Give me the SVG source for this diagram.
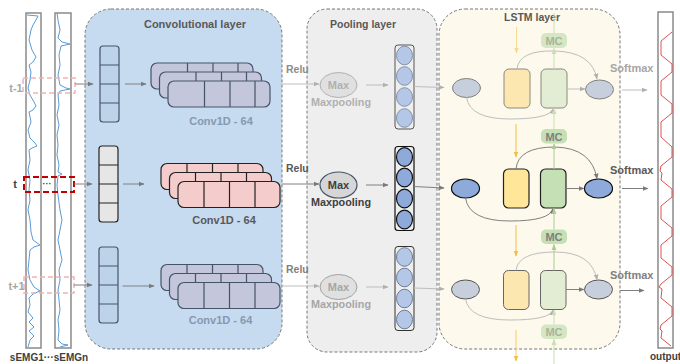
<svg xmlns="http://www.w3.org/2000/svg" width="680" height="364" viewBox="0 0 680 364">
<style>
text{font-family:"Liberation Sans",Arial,sans-serif;font-weight:bold}
.ttl{font-size:11px;fill:#595959;text-anchor:middle}
.lbl{font-size:11px;text-anchor:middle}
.box{stroke:#777;stroke-width:1;stroke-dasharray:3 2}
.strip{fill:#fff;stroke:#8a8a8a;stroke-width:1.5}
.sig{fill:none;stroke:#5b9bd5;stroke-width:1}
.cf{fill:#bdd3ea;stroke:#44546a;stroke-width:1.2}
.cm{fill:#e6e6e6;stroke:#222;stroke-width:1.2}
.sf{fill:#c4c6dc;stroke:#44546a;stroke-width:1.2}
.sm{fill:#f5cccc;stroke:#222;stroke-width:1.2}
.dv{stroke:#44546a;stroke-width:1.2}
.dvm{stroke:#222;stroke-width:1.2}
.lf{fill:none;stroke:#bdbdbd;stroke-width:1}
.lm{fill:none;stroke:#808080;stroke-width:1}
.mc{fill:#d5e6c3}
.mcm{fill:#c5e0b4}
</style>
<defs>
<marker id="aL" viewBox="0 0 10 10" refX="9" refY="5" markerWidth="6" markerHeight="6" markerUnits="userSpaceOnUse" orient="auto"><path d="M0,1L10,5L0,9z" fill="#b0b0b0"/></marker>
<marker id="aD" viewBox="0 0 10 10" refX="9" refY="5" markerWidth="6" markerHeight="6" markerUnits="userSpaceOnUse" orient="auto"><path d="M0,1L10,5L0,9z" fill="#7a7a7a"/></marker>
<marker id="aY" viewBox="0 0 10 10" refX="9" refY="5" markerWidth="6" markerHeight="6" markerUnits="userSpaceOnUse" orient="auto"><path d="M0,1L10,5L0,9z" fill="#f2bf45"/></marker>
<marker id="aYL" viewBox="0 0 10 10" refX="9" refY="5" markerWidth="6" markerHeight="6" markerUnits="userSpaceOnUse" orient="auto"><path d="M0,1L10,5L0,9z" fill="#f8da8e"/></marker>
<marker id="aG" viewBox="0 0 10 10" refX="9" refY="5" markerWidth="6" markerHeight="6" markerUnits="userSpaceOnUse" orient="auto"><path d="M0,1L10,5L0,9z" fill="#a9cc8f"/></marker>
<marker id="aGL" viewBox="0 0 10 10" refX="9" refY="5" markerWidth="6" markerHeight="6" markerUnits="userSpaceOnUse" orient="auto"><path d="M0,1L10,5L0,9z" fill="#c9deb6"/></marker>
</defs>

<!-- layer panels -->
<g id="conv-layer">
<rect class="box" x="85" y="9" width="197" height="340" rx="26" fill="#c7dbf0"/>
<text class="ttl" x="195" y="28">Convolutional layer</text>
</g>
<g id="pool-layer">
<rect class="box" x="307" y="9" width="130" height="343" rx="20" fill="#eeeeee"/>
<text class="ttl" x="363" y="28" style="font-size:10.5px">Pooling layer</text>
</g>
<g id="lstm-layer">
<rect class="box" x="439" y="9" width="181" height="340" rx="26" fill="#fdf9ec"/>
<text class="ttl" x="532" y="21" style="font-size:10.5px">LSTM layer</text>
</g>

<!-- input signals -->
<g id="input">
<rect class="strip" x="26" y="13" width="15" height="335"/>
<rect class="strip" x="55" y="13" width="16" height="335"/>
<polyline class="sig" points="27,15 38,16 36,20 33,25 31,30 29,40 32,50 36,57 33,62 29,65 31,72 30,80 28,88 30,95 34,102 36,106 33,110 29,112 31,122 28,130 30,138 35,143 37,146 32,148 29,150 30,160 28,170 30,180 29,190 30,200 28,210 30,220 31,232 33,240 40,245 34,247 30,250 29,260 28,270 30,280 34,287 40,291 33,294 29,298 30,305 28,312 33,318 29,322 34,327 29,331 34,336 30,340 28,347"/>
<polyline class="sig" points="57,13 58,20 60,30 58,38 62,42 70,44 61,46 59,55 60,65 58,75 60,85 66,88 70,89 60,91 58,95 59,105 57,115 59,125 57,135 58,145 57,155 59,165 58,172 62,174 58,176 57,185 58,195 60,210 62,220 60,230 58,240 60,250 62,260 59,270 60,280 58,290 59,300 60,310 58,320 59,330 58,340 62,344 68,345 60,347"/>
<text x="49" y="361" class="lbl" style="font-size:10px;fill:#404040">sEMG1···sEMGn</text>
</g>

<g id="window-t-1">
<rect x="23" y="78" width="52" height="15" fill="none" stroke="#f2b3b3" stroke-width="1.5" stroke-dasharray="5 3"/>
<text x="16" y="91.5" class="lbl" style="fill:#a6a6a6">t-1</text>
</g>
<g id="window-t">
<rect x="24" y="177" width="50" height="15" fill="none" stroke="#c00000" stroke-width="2" stroke-dasharray="6 3"/>
<text x="15" y="188" class="lbl" style="fill:#404040">t</text>
<text x="47" y="187" class="lbl" style="font-size:9px;fill:#404040">···</text>
</g>
<g id="window-t1">
<rect x="24" y="277" width="50" height="16" fill="none" stroke="#f2b3b3" stroke-width="1.5" stroke-dasharray="5 3"/>
<text x="16.5" y="290" class="lbl" style="fill:#a6a6a6">t+1</text>
</g>

<!-- conv columns -->
<g id="conv-col-top">
<rect class="cf" x="100" y="46" width="19" height="76" rx="3"/>
<path class="dv" d="M100,65H119M100,84H119M100,103H119"/>
</g>
<g id="conv-col-mid">
<rect class="cm" x="99" y="146" width="19" height="76" rx="3"/>
<path class="dvm" d="M99,165H118M99,184H118M99,203H118"/>
</g>
<g id="conv-col-bot">
<rect class="cf" x="99" y="247" width="19" height="76" rx="3"/>
<path class="dv" d="M99,266H118M99,285H118M99,304H118"/>
</g>

<!-- conv feature stacks -->
<g id="conv-maps-top">
<rect class="sf" x="151" y="63" width="102" height="26" rx="6"/>
<path class="dv" d="M187.5,63V89M213,63V89M238,63V89"/>
<rect class="sf" x="159.5" y="72" width="102" height="26" rx="6"/>
<path class="dv" d="M196,72V98M221.5,72V98M246.5,72V98"/>
<rect class="sf" x="168" y="81" width="102" height="26" rx="6"/>
<path class="dv" d="M204.5,81V107M230,81V107M255,81V107"/>
<text class="lbl" x="221" y="124.5" style="fill:#8499b0">Conv1D - 64</text>
</g>
<g id="conv-maps-mid">
<rect class="sm" x="161" y="163.5" width="102" height="26" rx="6"/>
<path class="dvm" d="M187,163.5V189.5M212.5,163.5V189.5M238,163.5V189.5"/>
<rect class="sm" x="169.5" y="172.5" width="102" height="26" rx="6"/>
<path class="dvm" d="M195.5,172.5V198.5M221,172.5V198.5M246.5,172.5V198.5"/>
<rect class="sm" x="178" y="181.5" width="102" height="26" rx="6"/>
<path class="dvm" d="M204,181.5V207.5M229.5,181.5V207.5M255,181.5V207.5"/>
<text class="lbl" x="224" y="224" style="fill:#595959">Conv1D - 64</text>
</g>
<g id="conv-maps-bot">
<rect class="sf" x="161" y="264.5" width="102" height="26" rx="6"/>
<path class="dv" d="M187,264.5V290.5M212.5,264.5V290.5M238,264.5V290.5"/>
<rect class="sf" x="169.5" y="273.5" width="102" height="26" rx="6"/>
<path class="dv" d="M195.5,273.5V299.5M221,273.5V299.5M246.5,273.5V299.5"/>
<rect class="sf" x="178" y="282.5" width="102" height="26" rx="6"/>
<path class="dv" d="M204,282.5V308.5M229.5,282.5V308.5M255,282.5V308.5"/>
<text class="lbl" x="220.5" y="324" style="fill:#8499b0">Conv1D - 64</text>
</g>

<!-- pooling -->
<g id="max-top">
<ellipse cx="338.5" cy="85" rx="18.5" ry="12.5" fill="#e0e0e0" stroke="#b0b0b0"/>
<text class="lbl" x="338.5" y="89" style="fill:#b0b0b0">Max</text>
<text class="lbl" x="341" y="106" style="fill:#b0b0b0;font-size:10.8px">Maxpooling</text>
</g>
<g id="max-mid">
<ellipse cx="338.5" cy="185" rx="18.5" ry="13" fill="#d6d6d6" stroke="#44546a" stroke-width="1.2"/>
<text class="lbl" x="338.5" y="189" style="fill:#404040">Max</text>
<text class="lbl" x="341" y="206" style="fill:#404040;font-size:10.8px">Maxpooling</text>
</g>
<g id="max-bot">
<ellipse cx="338.5" cy="287" rx="18.5" ry="12.5" fill="#e0e0e0" stroke="#a0a0a0"/>
<text class="lbl" x="338.5" y="291" style="fill:#a6a6a6">Max</text>
<text class="lbl" x="341" y="308" style="fill:#a6a6a6;font-size:10.8px">Maxpooling</text>
</g>

<g id="pool-vec-top">
<rect x="395" y="45" width="19" height="84" rx="3" fill="none" stroke="#555" stroke-width="1"/>
<g fill="#b4c7e7" stroke="#8090a8"><ellipse cx="404.5" cy="55.5" rx="8" ry="9.3"/><ellipse cx="404.5" cy="76" rx="8" ry="9.3"/><ellipse cx="404.5" cy="97" rx="8" ry="9.3"/><ellipse cx="404.5" cy="118" rx="8" ry="9.3"/></g>
</g>
<g id="pool-vec-mid">
<rect x="395" y="146.5" width="19" height="84" rx="3" fill="none" stroke="#111" stroke-width="1.2"/>
<g fill="#8eaadb" stroke="#111" stroke-width="1.2"><ellipse cx="404.5" cy="157" rx="8" ry="9.3"/><ellipse cx="404.5" cy="177.5" rx="8" ry="9.3"/><ellipse cx="404.5" cy="198.5" rx="8" ry="9.3"/><ellipse cx="404.5" cy="219.5" rx="8" ry="9.3"/></g>
</g>
<g id="pool-vec-bot">
<rect x="395" y="246.5" width="19" height="84" rx="3" fill="none" stroke="#333" stroke-width="1"/>
<g fill="#b4c7e7" stroke="#6a7a94"><ellipse cx="404.5" cy="257" rx="8" ry="9.3"/><ellipse cx="404.5" cy="277.5" rx="8" ry="9.3"/><ellipse cx="404.5" cy="298.5" rx="8" ry="9.3"/><ellipse cx="404.5" cy="319.5" rx="8" ry="9.3"/></g>
</g>

<!-- LSTM cells -->
<g id="lstm-top">
<ellipse cx="466.5" cy="88" rx="14" ry="9.5" fill="#c8cfdc" stroke="#808080"/>
<rect x="504" y="69" width="26" height="39" rx="5" fill="#fde7b0" stroke="#8a8a80"/>
<rect x="541" y="69" width="26" height="39" rx="5" fill="#e2edd3" stroke="#8a8a80"/>
<ellipse cx="599.5" cy="89.5" rx="14" ry="9.5" fill="#c8cfdc" stroke="#808080"/>
</g>
<g id="lstm-mid">
<ellipse cx="465.5" cy="188.5" rx="14" ry="9.5" fill="#8eaadb" stroke="#111" stroke-width="1.2"/>
<rect x="503.5" y="169" width="25.5" height="39" rx="5" fill="#ffe699" stroke="#222" stroke-width="1.2"/>
<rect x="540.5" y="169" width="25.5" height="39" rx="5" fill="#c5e0b4" stroke="#222" stroke-width="1.2"/>
<ellipse cx="598.5" cy="188.5" rx="14" ry="9.5" fill="#8eaadb" stroke="#111" stroke-width="1.2"/>
</g>
<g id="lstm-bot">
<ellipse cx="465.5" cy="289.5" rx="14" ry="9.5" fill="#c8cfdc" stroke="#555"/>
<rect x="503.5" y="270.5" width="25.5" height="39" rx="5" fill="#fde7b0" stroke="#666"/>
<rect x="540.5" y="270.5" width="25.5" height="39" rx="5" fill="#e2edd3" stroke="#666"/>
<ellipse cx="598.5" cy="289.5" rx="14" ry="9.5" fill="#c8cfdc" stroke="#555"/>
</g>

<g id="mc-1"><rect class="mc" x="541" y="33" width="26" height="15" rx="5"/><text class="lbl" x="554" y="44.5" style="fill:#a8b49c">MC</text></g>
<g id="mc-2"><rect class="mcm" x="541" y="129" width="26" height="14.5" rx="5"/><text class="lbl" x="554" y="140.5" style="fill:#7f7f7f">MC</text></g>
<g id="mc-3"><rect class="mcm" x="541" y="229.5" width="26" height="14.5" rx="5"/><text class="lbl" x="554" y="241" style="fill:#7f7f7f">MC</text></g>
<g id="mc-4"><rect class="mc" x="541" y="324.5" width="26" height="14.5" rx="5"/><text class="lbl" x="554" y="336" style="fill:#a8b49c">MC</text></g>

<!-- output -->
<g id="output">
<rect class="strip" x="658" y="12" width="15" height="336"/>
<polyline fill="none" stroke="#e05050" stroke-width="1" points="672,32 661,41 661,55 672,64 672,72 661,81 661,95 672,104 672,113 661,122 661,137 672,147 672,157 661,166 660,171 662,173 661,180 672,189 672,197 661,206 661,219 672,228 672,236 661,245 661,258 672,267 672,275 661,284 659,287 662,289 661,298 672,307 672,316 661,325 660,329 662,331 661,338 671,346"/>
<text x="650" y="360" style="font-size:10px;fill:#404040">output</text>
</g>

<g id="softmax-labels">
<text x="610" y="72" style="font-size:11px;fill:#a6a6a6">Softmax</text>
<text x="610" y="174" style="font-size:11px;fill:#595959">Softmax</text>
<text x="610" y="279" style="font-size:11px;fill:#7f7f7f">Softmax</text>
</g>
<g id="relu-labels">
<text x="286" y="73" style="font-size:10.5px;fill:#8c8c8c">Relu</text>
<text x="286" y="172" style="font-size:10.5px;fill:#595959">Relu</text>
<text x="286" y="273" style="font-size:10.5px;fill:#7f7f7f">Relu</text>
</g>

<!-- connectors -->
<g id="connectors">
<!-- inputs to conv columns -->
<line class="lm" x1="75" y1="84" x2="93" y2="84" marker-end="url(#aD)"/>
<line class="lm" x1="74" y1="184" x2="92" y2="184" marker-end="url(#aD)"/>
<line class="lm" x1="74" y1="285" x2="92" y2="285" marker-end="url(#aD)"/>
<!-- column to stack -->
<line class="lm" x1="125" y1="84" x2="146" y2="84" marker-end="url(#aD)"/>
<line class="lm" x1="123" y1="184" x2="144" y2="184" marker-end="url(#aD)"/>
<line class="lm" x1="122.5" y1="286" x2="154" y2="286" marker-end="url(#aD)"/>
<!-- relu to max -->
<line class="lf" x1="282" y1="84" x2="319" y2="84" marker-end="url(#aL)"/>
<line class="lm" x1="282" y1="184" x2="319" y2="184" marker-end="url(#aD)"/>
<line class="lf" x1="282" y1="286" x2="319" y2="286" marker-end="url(#aL)"/>
<!-- max to vector -->
<line class="lf" x1="366" y1="85" x2="388" y2="85" marker-end="url(#aL)"/>
<line class="lm" x1="366" y1="185" x2="388" y2="185" marker-end="url(#aD)"/>
<line class="lf" x1="366" y1="287" x2="388" y2="287" marker-end="url(#aL)"/>
<!-- vector to lstm -->
<line class="lf" x1="414" y1="86.5" x2="444" y2="87.5" marker-end="url(#aL)"/>
<line class="lm" x1="414" y1="186.5" x2="444" y2="188" marker-end="url(#aD)"/>
<line class="lf" x1="414" y1="288" x2="444" y2="289" marker-end="url(#aL)"/>
<!-- green to output ellipse -->
<line class="lf" x1="567" y1="89" x2="585" y2="89" marker-end="url(#aL)"/>
<line class="lm" x1="566" y1="188.5" x2="584" y2="188.5" marker-end="url(#aD)"/>
<line class="lm" x1="566" y1="289.5" x2="584" y2="289.5" marker-end="url(#aD)"/>
<!-- softmax arrows -->
<line class="lf" x1="622" y1="90" x2="647" y2="90" marker-end="url(#aL)"/>
<line class="lm" x1="622" y1="188.5" x2="648" y2="188.5" marker-end="url(#aD)"/>
<line class="lm" x1="620" y1="290.5" x2="644" y2="290.5" marker-end="url(#aD)"/>
<!-- LSTM curves -->
<path class="lf" d="M517,69Q519,50 555,51Q592,52 597,79" marker-end="url(#aL)"/>
<path class="lf" d="M466.5,97.5Q470,119 510,119Q550,119 553.5,108.5" marker-end="url(#aL)"/>
<path class="lm" d="M516,169Q518,147 555,147Q592,148 597,179" marker-end="url(#aD)"/>
<path class="lm" d="M465.5,198Q469,221 510,221Q550,221 553,208.5" marker-end="url(#aD)"/>
<path class="lf" d="M516,270.5Q518,252 555,252Q592,252 597,280" marker-end="url(#aL)"/>
<path class="lf" d="M465.5,299Q469,320 510,320Q550,320 553,310" marker-end="url(#aL)"/>
<!-- yellow vertical flow -->
<line x1="516.5" y1="27" x2="516.5" y2="53" stroke="#f8da8e" stroke-width="1" marker-end="url(#aYL)"/>
<line x1="516" y1="124" x2="516" y2="157" stroke="#f2bf45" stroke-width="1" marker-end="url(#aY)"/>
<line x1="516" y1="225" x2="516" y2="256" stroke="#f2bf45" stroke-width="1" marker-end="url(#aY)"/>
<line x1="516" y1="330" x2="516" y2="361" stroke="#f5cd6a" stroke-width="1" marker-end="url(#aY)"/>
<!-- green vertical flow -->
<line x1="554" y1="13" x2="554" y2="33" stroke="#c9deb6" stroke-width="1"/>
<line x1="554" y1="69" x2="554" y2="48.5" stroke="#c9deb6" stroke-width="1" marker-end="url(#aGL)"/>
<line x1="554" y1="129" x2="554" y2="108.5" stroke="#c9deb6" stroke-width="1" marker-end="url(#aGL)"/>
<line x1="554" y1="169" x2="554" y2="144" stroke="#a9cc8f" stroke-width="1" marker-end="url(#aG)"/>
<line x1="554" y1="229.5" x2="554" y2="208.5" stroke="#a9cc8f" stroke-width="1" marker-end="url(#aG)"/>
<line x1="554" y1="270.5" x2="554" y2="244.5" stroke="#a9cc8f" stroke-width="1" marker-end="url(#aG)"/>
<line x1="554" y1="324.5" x2="554" y2="310" stroke="#c9deb6" stroke-width="1" marker-end="url(#aGL)"/>
<line x1="554" y1="364" x2="554" y2="339.5" stroke="#c9deb6" stroke-width="1" marker-end="url(#aGL)"/>
</g>
</svg>
